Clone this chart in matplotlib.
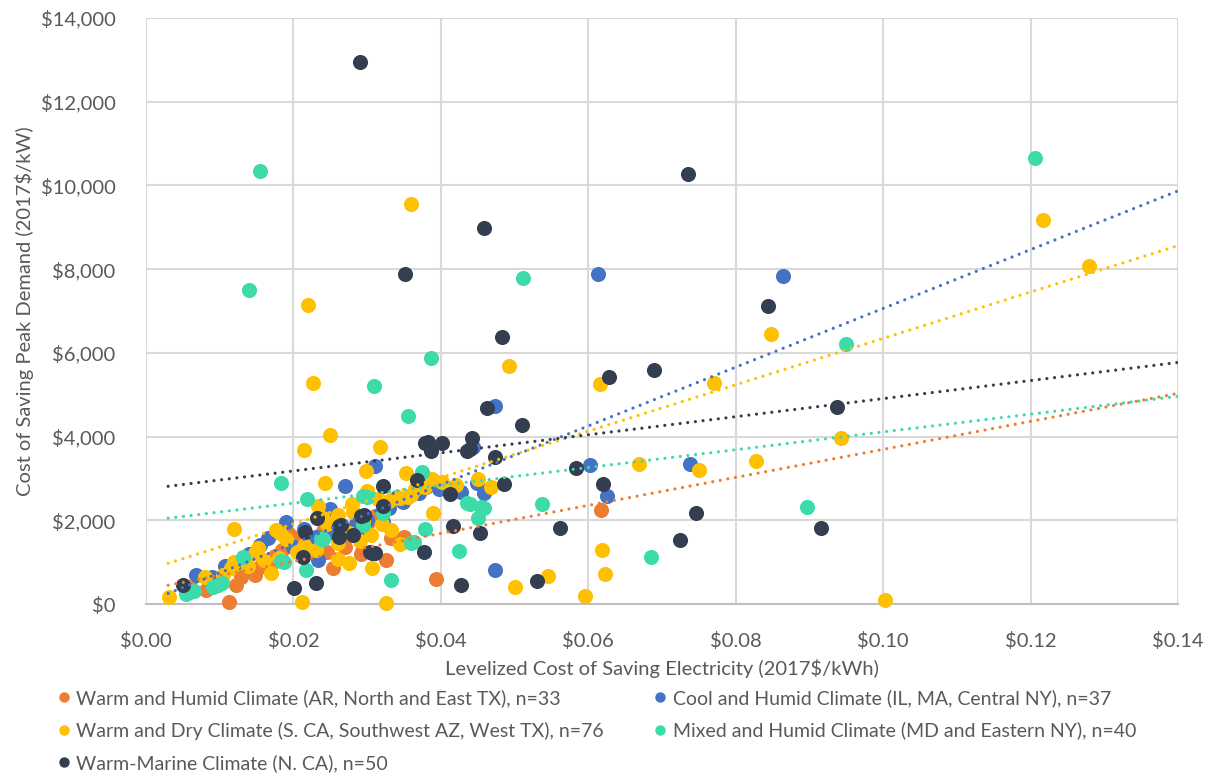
import matplotlib
matplotlib.use("Agg")
import matplotlib.pyplot as plt
from matplotlib.lines import Line2D
from matplotlib.ticker import FuncFormatter
import numpy as np

plt.rcParams['font.family'] = ['Lato', 'DejaVu Sans']

# ---------------- data ----------------
series_names = [
    "Warm and Humid Climate (AR, North and East TX), n=33",
    "Cool and Humid Climate (IL, MA, Central NY), n=37",
    "Warm and Dry Climate (S. CA, Southwest AZ, West TX), n=76",
    "Mixed and Humid Climate (MD and Eastern NY), n=40",
    "Warm-Marine Climate (N. CA), n=50",
]
series_colors = ["#ED7D31", "#4472C4", "#FFC000", "#3DDBA9", "#333F50"]

orange_x = [0.0617, 0.0393, 0.0333, 0.0325, 0.0291, 0.0254, 0.0200, 0.0192, 0.0208, 0.0154,
            0.0140, 0.0129, 0.0122, 0.0113, 0.0082, 0.0100, 0.0163, 0.0175, 0.0225, 0.0262,
            0.0270, 0.0280, 0.0300, 0.0310, 0.0350, 0.0060, 0.0185, 0.0240, 0.0214, 0.0148,
            0.0245, 0.0290, 0.0170]
orange_y = [2242, 596, 1574, 1049, 1192, 859, 1598, 1700, 1480, 882,
            800, 644, 453, 48, 334, 500, 1000, 1150, 1400, 1550,
            1350, 1700, 1900, 2100, 1600, 400, 1300, 1750, 1680, 700,
            1250, 1800, 950]

blue_x = [0.0613, 0.0864, 0.0474, 0.0738, 0.0602, 0.0625, 0.0474, 0.0443, 0.0397, 0.0428,
          0.0449, 0.0458, 0.0310, 0.0270, 0.0250, 0.0349, 0.0190, 0.0166, 0.0107, 0.0068,
          0.0234, 0.0300, 0.0322, 0.0255, 0.0285, 0.0215, 0.0155, 0.0125, 0.0090, 0.0340,
          0.0380, 0.0330, 0.0230, 0.0200, 0.0370, 0.0287, 0.0140]
blue_y = [7894, 7847, 4722, 3339, 3315, 2576, 811, 3744, 2743, 2671,
          2886, 2647, 3291, 2814, 2266, 2433, 1956, 1574, 906, 692,
          1049, 2000, 1950, 1700, 1900, 1800, 1400, 1000, 650, 2550,
          2800, 2300, 1600, 1350, 2650, 1600, 1200]

yellow_x = [0.0360, 0.1217, 0.1279, 0.0220, 0.0848, 0.0493, 0.0227, 0.0616, 0.0771, 0.0249,
            0.0943, 0.0317, 0.0215, 0.0828, 0.0669, 0.0750, 0.0353, 0.0299, 0.0388, 0.0401,
            0.0450, 0.0243, 0.0468, 0.0379, 0.0360, 0.0345, 0.0315, 0.0234, 0.0281, 0.0261,
            0.0389, 0.0120, 0.0177, 0.0333, 0.0182, 0.0261, 0.0345, 0.0152, 0.0231, 0.0619,
            0.0148, 0.0261, 0.0120, 0.0275, 0.0306, 0.0170, 0.0622, 0.0546, 0.0080, 0.0500,
            0.0595, 0.0031, 0.1002, 0.0211, 0.0325, 0.0280, 0.0300, 0.0330, 0.0290, 0.0190,
            0.0215, 0.0160, 0.0138, 0.0105, 0.0180, 0.0245, 0.0275, 0.0355, 0.0305, 0.0365,
            0.0420, 0.0295, 0.0115, 0.0240, 0.0205, 0.0320]
yellow_y = [9564, 9182, 8085, 7155, 6440, 5676, 5271, 5247, 5271, 4031,
            3959, 3744, 3673, 3411, 3339, 3196, 3124, 3172, 2981, 2910,
            2981, 2886, 2790, 2790, 2600, 2528, 2504, 2337, 2194, 2123,
            2170, 1789, 1765, 1765, 1693, 1455, 1431, 1336, 1288, 1288,
            1216, 1073, 1002, 978, 859, 739, 716, 668, 644, 405,
            191, 167, 95, 48, 24, 2400, 2700, 2450, 1500, 1550,
            1400, 1050, 900, 700, 1100, 1900, 1700, 2550, 1650, 2750,
            2850, 2000, 850, 2050, 1250, 1900]

green_x = [0.1206, 0.0154, 0.0512, 0.0140, 0.0386, 0.0309, 0.0355, 0.0950, 0.0897, 0.0685,
           0.0374, 0.0183, 0.0219, 0.0295, 0.0322, 0.0435, 0.0455, 0.0451, 0.0537, 0.0379,
           0.0425, 0.0360, 0.0295, 0.0237, 0.0332, 0.0217, 0.0183, 0.0132, 0.0103, 0.0091,
           0.0065, 0.0054, 0.0187, 0.0098, 0.0060, 0.0240, 0.0300, 0.0440, 0.0458, 0.0364]
green_y = [10661, 10351, 7799, 7513, 5867, 5199, 4484, 6201, 2313, 1121,
           3148, 2886, 2504, 2576, 2170, 2409, 2313, 2051, 2385, 1789,
           1264, 1455, 1884, 1550, 572, 811, 1025, 1121, 501, 405,
           310, 239, 1000, 450, 280, 1560, 2560, 2380, 2290, 1470]

dark_x = [0.0290, 0.0735, 0.0458, 0.0351, 0.0844, 0.0483, 0.0689, 0.0628, 0.0938, 0.0462,
          0.0510, 0.0378, 0.0386, 0.0402, 0.0442, 0.0436, 0.0474, 0.0583, 0.0620, 0.0746,
          0.0916, 0.0724, 0.0368, 0.0413, 0.0485, 0.0321, 0.0321, 0.0292, 0.0232, 0.0262,
          0.0262, 0.0281, 0.0216, 0.0416, 0.0453, 0.0561, 0.0377, 0.0304, 0.0311, 0.0213,
          0.0428, 0.0530, 0.0231, 0.0201, 0.0050, 0.0296, 0.0383, 0.0440, 0.0265, 0.0307]
dark_y = [12951, 10280, 8990, 7894, 7131, 6368, 5581, 5414, 4698, 4675,
          4269, 3840, 3649, 3840, 3959, 3649, 3506, 3244, 2862, 2170,
          1813, 1526, 2957, 2623, 2862, 2814, 2337, 2099, 2051, 1860,
          1598, 1646, 1717, 1860, 1693, 1813, 1240, 1240, 1216, 1121,
          453, 549, 501, 382, 453, 2130, 3860, 3700, 1880, 1230]

# linear trendlines (slope, intercept)
trend_slope = [33450, 70200, 55400, 21260, 21600]
trend_intercept = [349, 42, 806, 1985, 2747]
trend_x_range = [0.003, 0.14]

x_ticks = [0.00, 0.02, 0.04, 0.06, 0.08, 0.10, 0.12, 0.14]
y_ticks = [0, 2000, 4000, 6000, 8000, 10000, 12000, 14000]

x_label = "Levelized Cost of Saving Electricity (2017$/kWh)"
y_label = "Cost of Saving Peak Demand (2017$/kW)"

# ---------------- plot ----------------
W, H = 1212, 774
fig = plt.figure(figsize=(W / 100, H / 100), dpi=100)
ax = fig.add_axes([146 / W, 1 - 604 / H, (1178 - 146) / W, (604 - 18) / H])

xs = [orange_x, blue_x, yellow_x, green_x, dark_x]
ys = [orange_y, blue_y, yellow_y, green_y, dark_y]

for i, (x, y) in enumerate(zip(xs, ys)):
    ax.scatter(x, y, s=118, color=series_colors[i], linewidths=0, zorder=3 + i * 0.1,
               clip_on=False)

tx = np.array(trend_x_range)
for i in range(5):
    ax.plot(tx, trend_slope[i] * tx + trend_intercept[i], color=series_colors[i],
            lw=2.3, linestyle=(0, (0.01, 2.4)), dash_capstyle='round', zorder=5)

ax.set_xlim(0, 0.14)
ax.set_ylim(0, 14000)
ax.set_xticks(x_ticks)
ax.set_yticks(y_ticks)
ax.xaxis.set_major_formatter(FuncFormatter(lambda v, p: f"${v:.2f}"))
ax.yaxis.set_major_formatter(FuncFormatter(lambda v, p: f"${v:,.0f}"))

ax.grid(True, color="#D9D9D9", lw=1.5, zorder=0)
ax.set_axisbelow(True)
for s in ["top", "right", "left"]:
    ax.spines[s].set_visible(False)
ax.spines["bottom"].set_color("#BFBFBF")
ax.spines["bottom"].set_linewidth(1.5)
ax.tick_params(axis="both", length=0, labelsize=14.5, labelcolor="#595959")
ax.tick_params(axis="y", pad=22)
ax.tick_params(axis="x", pad=20)

ax.set_xlabel(x_label, fontsize=14.5, color="#595959", labelpad=7)
ax.set_ylabel(y_label, fontsize=14.5, color="#595959", labelpad=5)

handles = [Line2D([], [], marker="o", linestyle="none", markersize=7.5,
                  markerfacecolor=c, markeredgewidth=0) for c in series_colors]
order = [0, 2, 4, 1, 3]
fig.legend([handles[i] for i in order], [series_names[i] for i in order],
           ncol=2, loc="upper left", bbox_to_anchor=(54 / W, 1 - 689 / H),
           frameon=False, fontsize=14, labelcolor="#595959",
           handletextpad=0.15, handlelength=1.0, columnspacing=2.4,
           labelspacing=0.75, borderpad=0, borderaxespad=0)

fig.savefig("out.png", dpi=100)
